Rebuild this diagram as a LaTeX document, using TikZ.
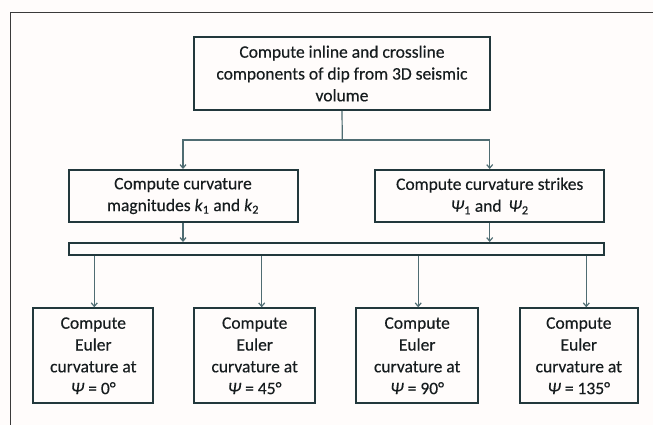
\documentclass[tikz,border=0pt]{standalone}
\usepackage{fontspec}
\setmainfont{Carlito}[FakeBold=0.35]
\usetikzlibrary{arrows.meta}
\definecolor{boxc}{HTML}{22383C}
\definecolor{arrc}{HTML}{4F6C72}
\definecolor{bgc}{HTML}{FFFCFB}
\definecolor{framec}{HTML}{3A3A3A}
\definecolor{txtc}{HTML}{161C1E}
\begin{document}
\begin{tikzpicture}[x=1pt,y=-1pt,
  box/.style={draw=boxc,line width=2pt,align=center,inner sep=0pt,text=txtc,
    font=\fontsize{17.5}{21.8}\selectfont},
  conn/.style={draw=arrc,line width=1.2pt},
  arr/.style={conn,-{Straight Barb[length=3.5pt,width=6pt]}}]
\fill[bgc] (0,0) rectangle (653,425);
\useasboundingbox (0,0) rectangle (653,425);
\draw[framec,line width=1.3pt] (653,12.7) -- (10.3,12.7) -- (10.3,425);

\node[box,minimum width=296pt,minimum height=73pt] (top) at (342,73.5)
  {Compute inline and crossline\\components of dip from 3D seismic\\volume};
\node[box,minimum width=229pt,minimum height=52pt] (ml) at (183,196)
  {Compute curvature\\magnitudes \textit{k}\textsubscript{1} and \textit{k}\textsubscript{2}};
\node[box,minimum width=229pt,minimum height=52pt] (mr) at (489.7,196)
  {Compute curvature strikes\\\textit{Ψ}\textsubscript{1} and\, \textit{Ψ}\textsubscript{2}};
\node[box,minimum width=535pt,minimum height=12pt] (bar) at (336.5,249) {};
\node[box,minimum width=120pt,minimum height=95pt] (b1) at (93.3,355.8)
  {Compute\\Euler\\curvature at\\\textit{Ψ} = 0°};
\node[box,minimum width=121pt,minimum height=95pt] (b2) at (254.7,355.8)
  {Compute\\Euler\\curvature at\\\textit{Ψ} = 45°};
\node[box,minimum width=122pt,minimum height=95pt] (b3) at (417.2,355.8)
  {Compute\\Euler\\curvature at\\\textit{Ψ} = 90°};
\node[box,minimum width=118pt,minimum height=95pt] (b4) at (578.8,355.8)
  {Compute\\Euler\\curvature at\\\textit{Ψ} = 135°};

\coordinate (j) at (342.3,140);
\draw[conn] (top.south) -- (j);
\draw[arr] (j) -| (ml.north);
\draw[arr] (j) -| (mr.north);
\draw[arr] (ml.south) -- (ml.south |- bar.north);
\draw[arr] (mr.south) -- (mr.south |- bar.north);
\draw[arr] ([xshift=1pt]b1.north |- bar.south) -- ([xshift=1pt]b1.north);
\draw[arr] ([xshift=7pt]b2.north |- bar.south) -- ([xshift=7pt]b2.north);
\draw[arr] ([xshift=1pt]b3.north |- bar.south) -- ([xshift=1pt]b3.north);
\draw[arr] ([xshift=7.5pt]b4.north |- bar.south) -- ([xshift=7.5pt]b4.north);
\end{tikzpicture}
\end{document}
